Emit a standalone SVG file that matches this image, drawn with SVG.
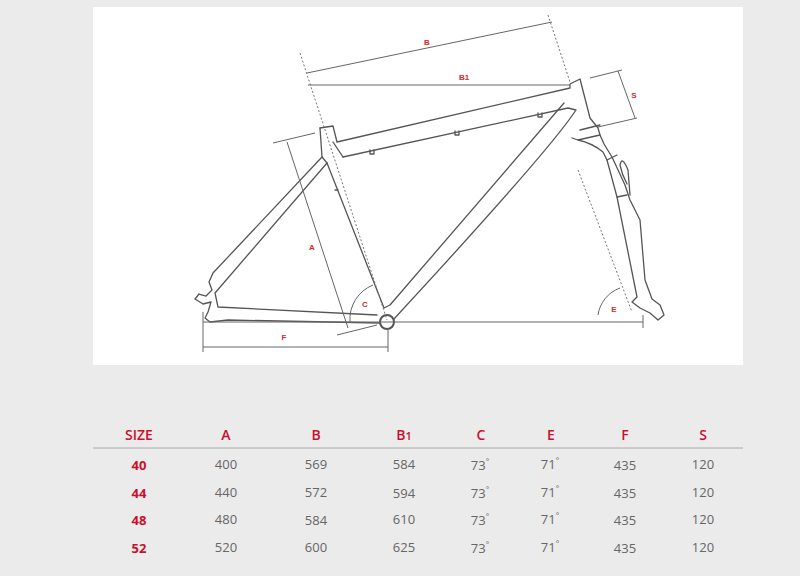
<svg xmlns="http://www.w3.org/2000/svg" width="800" height="576" viewBox="0 0 800 576">
<style>
.f{fill:none;stroke:#555;stroke-width:1.3;stroke-linejoin:round;stroke-linecap:round}
.d{fill:none;stroke:#666;stroke-width:1}
.dot{fill:none;stroke:#777;stroke-width:1;stroke-dasharray:2 2}
.lb{font-family:"Liberation Sans",Arial,sans-serif;font-size:8px;font-weight:bold;fill:#d42a2a;text-anchor:middle}
.h{font-family:"Open Sans","Liberation Sans",sans-serif;font-size:14px;font-weight:600;fill:#c8102e;text-anchor:middle}
.v{font-family:"Open Sans","Liberation Sans",sans-serif;font-size:13px;fill:#666;text-anchor:middle}
.s{font-family:"Open Sans","Liberation Sans",sans-serif;font-size:13px;font-weight:bold;fill:#c8102e;text-anchor:middle}
</style>
<rect width="800" height="576" fill="#ebebeb"/>
<rect x="93" y="7" width="650" height="358" fill="#fff"/>
<g id="frame">
<path class="f" d="M320,128 L333,126 L337,142 L570,88 L570,84 L580,79 L590,118 L598,128 L600,135 L578,140 L572,138"/>
<path class="f" d="M320,128 L322,157 L213,273 L209,282 L212,290 L206,296 L199,294 L195,299 L203,304 L211,302 L208,312 L205,318 L210,322 L228,320 L380,323"/>
<path class="f" d="M333,142 L343,157 L568,108 L576,110 Q550,150 393,320"/>
<path class="f" d="M327,163 L384,308 L390,305 L564,103"/>
<path class="f" d="M343,157 L343,157 M327,163 L215,293 L218,307 L377,315"/>
<path class="f" d="M322,157 L327,163"/>
<path class="f" d="M578,140 Q592,143 603,152 L607,160 L617,197 L637,297 L632,302 L640,308 L650,313 L658,320 L664,315 L660,305 L652,299 L645,280 L640,220 L630,200 L625,185 L612,157 L604,144 L600,135"/>
<path class="f" d="M580,130 L600,125 M607,160 L617,155 M617,197 L627,195 M627,184 Q622,175 620,165 Q622,155 628,170 L630,195"/>
<path class="f" d="M370,150 L370,154 L374,154 L374,150 M455,131 L455,135 L459,135 L459,131 M538,113 L538,117 L542,117 L542,113 M335,190 L338,190"/>
<circle cx="387" cy="322" r="7" fill="#fff" stroke="#555" stroke-width="2"/>
</g>
<g id="connectors">
<line class="dot" x1="300" y1="53" x2="387" y2="320"/>
<line class="dot" x1="548" y1="15" x2="570" y2="82"/>
<line class="dot" x1="578" y1="170" x2="632" y2="312"/>
<line class="d" x1="203" y1="322" x2="643" y2="322"/>
<line class="d" x1="643" y1="315" x2="643" y2="328"/>
<line class="d" x1="203" y1="312" x2="203" y2="352"/>
<line class="d" x1="388" y1="330" x2="388" y2="352"/>
<line class="d" x1="203" y1="347" x2="388" y2="347"/>
<line class="d" x1="307" y1="73" x2="552" y2="22"/>
<line class="d" x1="308" y1="85" x2="570" y2="85"/>
<line class="d" x1="590" y1="78" x2="622" y2="70"/>
<line class="d" x1="598" y1="127" x2="637" y2="118"/>
<line class="d" x1="618" y1="71" x2="635" y2="118"/>
<line class="d" x1="273" y1="143" x2="315" y2="133"/>
<line class="d" x1="337" y1="335" x2="377" y2="325"/>
<line class="d" x1="287" y1="142" x2="348" y2="328"/>
<path class="d" d="M350,322 A37,37 0 0 1 373,285"/>
<path class="d" d="M598,315 A34,34 0 0 1 620,288"/>
<text class="lb" x="427" y="45">B</text>
<text class="lb" x="464" y="80">B1</text>
<text class="lb" x="634" y="98">S</text>
<text class="lb" x="312" y="250">A</text>
<text class="lb" x="365" y="307">C</text>
<text class="lb" x="614" y="312">E</text>
<text class="lb" x="284" y="340">F</text>
</g>
<g id="table">
<text class="h" x="139" y="440">SIZE</text>
<text class="h" x="226" y="440">A</text>
<text class="h" x="316" y="440">B</text>
<text class="h" x="404" y="440">B<tspan font-size="11">1</tspan></text>
<text class="h" x="481" y="440">C</text>
<text class="h" x="551" y="440">E</text>
<text class="h" x="625" y="440">F</text>
<text class="h" x="703" y="440">S</text>
<line x1="93" y1="448" x2="743" y2="448" stroke="#aaa" stroke-width="1"/>
<g>
<text class="s" x="139" y="470">40</text><text class="v" x="226" y="469">400</text><text class="v" x="316" y="469">569</text><text class="v" x="404" y="469">584</text><text class="v" x="480" y="470">73<tspan font-size="8" dy="-6">°</tspan></text><text class="v" x="550" y="469">71<tspan font-size="8" dy="-6">°</tspan></text><text class="v" x="625" y="470">435</text><text class="v" x="703" y="469">120</text>
<text class="s" x="139" y="498">44</text><text class="v" x="226" y="497">440</text><text class="v" x="316" y="497">572</text><text class="v" x="404" y="498">594</text><text class="v" x="480" y="498">73<tspan font-size="8" dy="-6">°</tspan></text><text class="v" x="550" y="497">71<tspan font-size="8" dy="-6">°</tspan></text><text class="v" x="625" y="498">435</text><text class="v" x="703" y="497">120</text>
<text class="s" x="139" y="525">48</text><text class="v" x="226" y="524">480</text><text class="v" x="316" y="525">584</text><text class="v" x="404" y="524">610</text><text class="v" x="480" y="525">73<tspan font-size="8" dy="-6">°</tspan></text><text class="v" x="550" y="524">71<tspan font-size="8" dy="-6">°</tspan></text><text class="v" x="625" y="525">435</text><text class="v" x="703" y="524">120</text>
<text class="s" x="139" y="553">52</text><text class="v" x="226" y="552">520</text><text class="v" x="316" y="552">600</text><text class="v" x="404" y="552">625</text><text class="v" x="480" y="553">73<tspan font-size="8" dy="-6">°</tspan></text><text class="v" x="550" y="552">71<tspan font-size="8" dy="-6">°</tspan></text><text class="v" x="625" y="553">435</text><text class="v" x="703" y="552">120</text>
</g>
</g>
</svg>
